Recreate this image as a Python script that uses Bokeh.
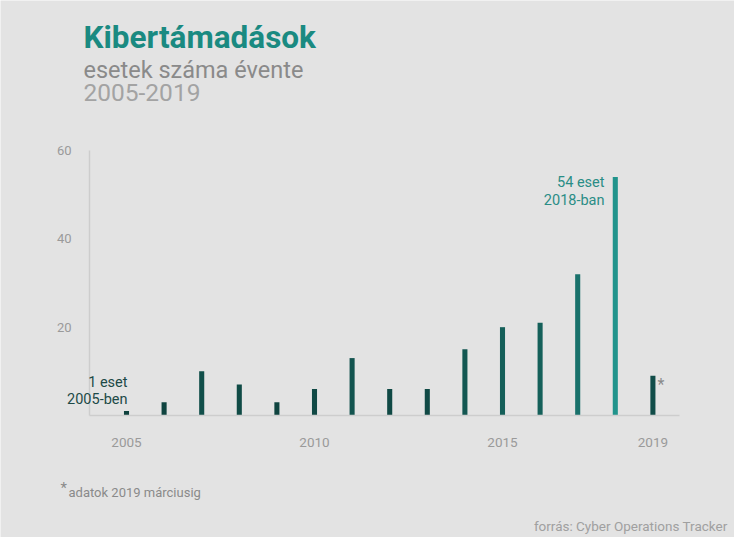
from bokeh.plotting import figure
from bokeh.models import ColumnDataSource, Label, Range1d, FixedTicker, LinearColorMapper
from bokeh.transform import transform
from bokeh.embed import file_html
from bokeh.resources import INLINE

years = [2005, 2006, 2007, 2008, 2009, 2010, 2011, 2012, 2013, 2014, 2015, 2016, 2017, 2018, 2019]
cases = [1, 3, 10, 7, 3, 6, 13, 6, 6, 15, 20, 21, 32, 54, 9]
x_ticks = [2005, 2010, 2015, 2019]
y_ticks = [20, 40, 60]

FONT = "Roboto"
BG = "#e3e3e3"

def hexint(h):
    return tuple(int(h[i:i + 2], 16) for i in (1, 3, 5))
c0, c1 = hexint("#0e403c"), hexint("#21948c")
palette = []
for i in range(64):
    t = i / 63
    palette.append("#%02x%02x%02x" % tuple(round(a + (b - a) * t) for a, b in zip(c0, c1)))
mapper = LinearColorMapper(palette=palette, low=0, high=54)

src = ColumnDataSource(dict(year=years, cases=cases))

X0_PX, X1_PX = 97, 687
Y0_PX, Y60_PX = 423, 158
PX_PER_YEAR = 37.6
PX_PER_UNIT = (Y0_PX - Y60_PX) / 60
XSTART = 2005 - (134 - X0_PX) / PX_PER_YEAR
XEND = XSTART + (X1_PX - X0_PX) / PX_PER_YEAR

def dx(px):
    return XSTART + (px - X0_PX) / PX_PER_YEAR
def dy(py):
    return (Y0_PX - py) / PX_PER_UNIT

W, H = 734, 537
p = figure(width=W, height=H, output_backend="svg", toolbar_location=None,
           x_range=Range1d(dx(8), dx(8 + W)), y_range=Range1d(dy(8 + H), dy(8)),
           min_border=0)
p.background_fill_color = BG
p.border_fill_color = BG
p.outline_line_color = None
p.grid.visible = False

p.vbar(x="year", top="cases", bottom=0, width=0.135, source=src,
       fill_color=transform("cases", mapper), line_color=None)

p.xaxis.ticker = FixedTicker(ticks=x_ticks)
p.yaxis.ticker = FixedTicker(ticks=y_ticks)
for ax in (p.xaxis[0], p.yaxis[0]):
    ax.major_tick_line_color = None
    ax.minor_tick_line_color = None
    ax.axis_line_color = "#cdcdcd"
    ax.axis_line_width = 1.5
    ax.major_label_text_color = "#9a9a9a"
    ax.major_label_text_font = FONT
ax_font = "13.5px"
p.xaxis.major_label_text_font_size = ax_font
p.yaxis.major_label_text_font_size = "13px"
p.xaxis.major_label_standoff = 16
p.yaxis.major_label_standoff = 12
p.xaxis.fixed_location = 0
p.yaxis.fixed_location = XSTART
p.xaxis.bounds = (XSTART, XEND)
p.yaxis.bounds = (0, 60)

SHIFT = -5  # baseline correction

def lab(x, y, text, size, color, align="left", style="normal"):
    p.add_layout(Label(x=dx(x), y=dy(y + SHIFT), text=text, text_font=FONT, text_font_size=size,
                       text_color=color, text_align=align, text_baseline="alphabetic",
                       text_font_style=style))

lab(91, 50, "Kibertámadások", "31.5px", "#1a8a81", style="bold")
lab(91, 82, "esetek száma évente", "23.5px", "#8a8a8a")
lab(91, 105, "2005-2019", "24.5px", "#a3a3a3")

lab(135, 395, "1 eset", "14.5px", "#1d4a47", align="right")
lab(135, 412, "2005-ben", "14.5px", "#1d4a47", align="right")
lab(612, 195, "54 eset", "14.5px", "#2a8d86", align="right")
lab(612, 213, "2018-ban", "14.5px", "#2a8d86", align="right")
lab(665, 397, "*", "16px", "#8a8a8a")

lab(68, 500, "*", "15px", "#8a8a8a")
lab(76, 505, "adatok 2019 márciusig", "13px", "#8a8a8a")
lab(735, 538, "forrás: Cyber Operations Tracker", "13.5px", "#a0a0a0", align="right")

open("out.html", "w").write(file_html(p, INLINE))
